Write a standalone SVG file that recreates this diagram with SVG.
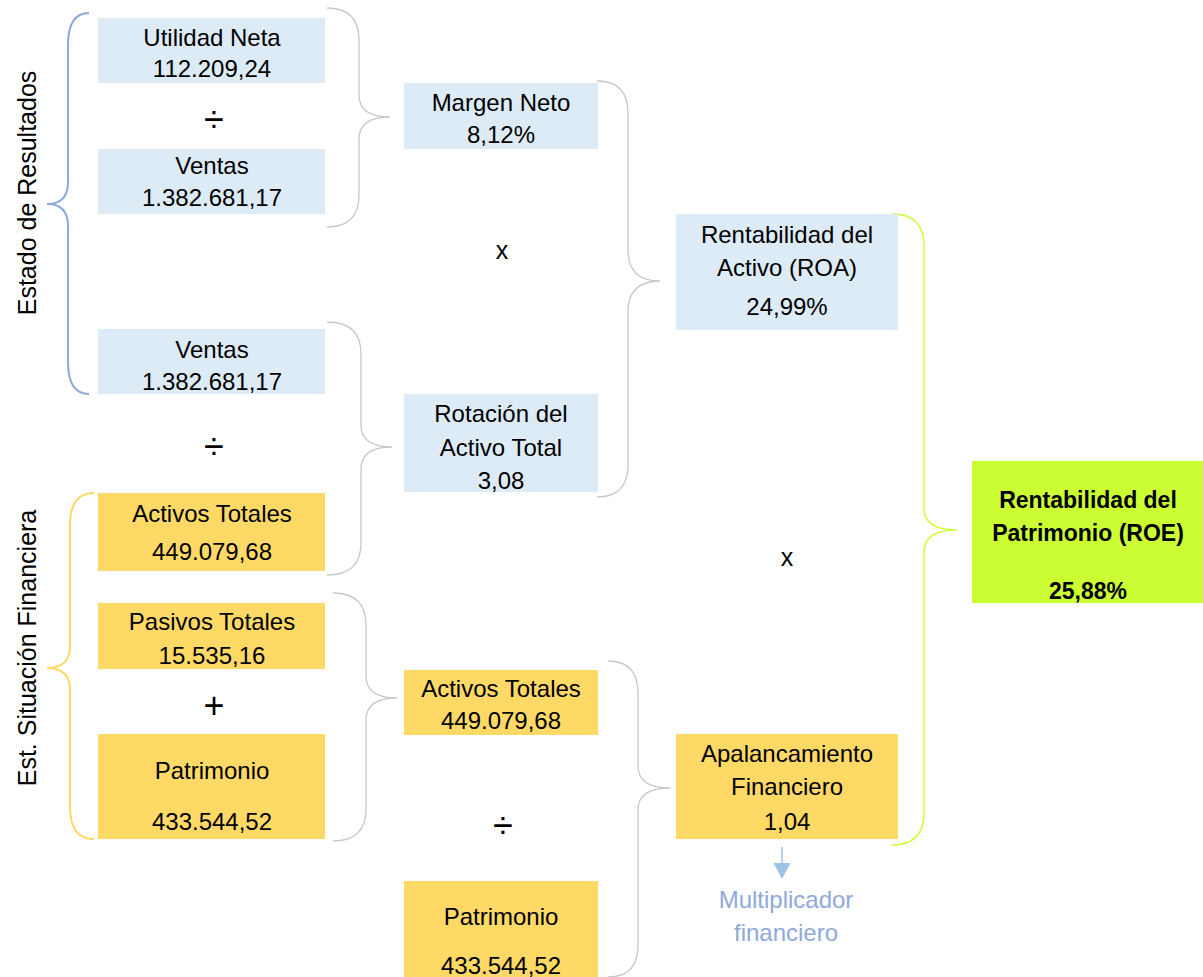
<svg xmlns="http://www.w3.org/2000/svg" width="1203" height="977" viewBox="0 0 1203 977">
<style>
text{font-family:"Liberation Sans",Arial,sans-serif;font-size:24px;fill:#000;text-anchor:middle}
.b{fill:#DDEBF7}
.y{fill:#FFD966}
.g{fill:#CCFF33}
.bold{font-weight:bold;font-size:23px}
.br{fill:none;stroke:#C9C9C9;stroke-width:1.3}
.op{font-size:36px}
.x{font-size:25px}
.side{font-size:25px}
.mult{fill:#8EA9DB}
</style>
<defs>
<marker id="ah" markerWidth="17" markerHeight="17" refX="0" refY="8.5" orient="auto" markerUnits="userSpaceOnUse">
<path d="M0,0 L16,8.5 L0,17 Z" fill="#9DC3E6"/>
</marker>
</defs>
<g id="connectors">
<path class="br" d="M327,8 Q359,8 359,40 L359,95 Q359,117 390,117 Q359,117 359,139 L359,195 Q359,227 327,227"/>
<path class="br" d="M597,81 Q628,81 628,113 L628,250 Q628,281 660,281 Q628,281 628,312 L628,465 Q628,497 597,497"/>
<path class="br" d="M327,322 Q361,322 361,354 L361,425 Q361,447 392,447 Q361,447 361,469 L361,543 Q361,575 327,575"/>
<path class="br" d="M333,593 Q366,593 366,625 L366,676 Q366,698 397,698 Q366,698 366,720 L366,809 Q366,841 333,841"/>
<path class="br" d="M608,661 Q638,661 638,693 L638,766 Q638,788 670,788 Q638,788 638,810 L638,945 Q638,977 608,977"/>
<path fill="none" stroke="#CCFF33" stroke-width="1.5" d="M892,214 Q924,214 924,246 L924,508 Q924,530 957,530 Q924,530 924,552 L924,813 Q924,845 892,845"/>
<path fill="none" stroke="#8EA9DB" stroke-width="2" d="M89,13 Q68,13 68,45 L68,182 Q68,204 47,204 Q68,204 68,226 L68,362 Q68,394 89,394"/>
<path fill="none" stroke="#FFD966" stroke-width="2" d="M94,493 Q70,493 70,525 L70,646 Q70,668 47,668 Q70,668 70,690 L70,807 Q70,839 94,839"/>
<line x1="782" y1="847" x2="782" y2="863" stroke="#9DC3E6" stroke-width="1.5" marker-end="url(#ah)"/>
</g>
<text class="side" transform="translate(36,193) rotate(-90)">Estado de Resultados</text>
<text class="side" transform="translate(36,648) rotate(-90)">Est. Situación Financiera</text>
<g id="utilidad-neta"><rect class="b" x="98" y="18" width="227" height="65"/><text x="212" y="46">Utilidad Neta</text><text x="212" y="77">112.209,24</text></g>
<text class="op" x="214" y="132">÷</text>
<g id="ventas-1"><rect class="b" x="98" y="149" width="227" height="65"/><text x="212" y="174">Ventas</text><text x="212" y="206">1.382.681,17</text></g>
<g id="ventas-2"><rect class="b" x="98" y="329" width="227" height="65"/><text x="212" y="358">Ventas</text><text x="212" y="390">1.382.681,17</text></g>
<text class="op" x="214" y="459">÷</text>
<g id="activos-totales-1"><rect class="y" x="98" y="493" width="227" height="78"/><text x="212" y="522">Activos Totales</text><text x="212" y="560">449.079,68</text></g>
<g id="pasivos-totales"><rect class="y" x="98" y="603" width="227" height="66"/><text x="212" y="630">Pasivos Totales</text><text x="212" y="664">15.535,16</text></g>
<text class="op" x="214" y="718">+</text>
<g id="patrimonio-1"><rect class="y" x="98" y="734" width="227" height="105"/><text x="212" y="779">Patrimonio</text><text x="212" y="830">433.544,52</text></g>
<g id="margen-neto"><rect class="b" x="404" y="83" width="194" height="66"/><text x="501" y="111">Margen Neto</text><text x="501" y="143">8,12%</text></g>
<text class="x" x="502" y="259">x</text>
<g id="rotacion"><rect class="b" x="404" y="394" width="194" height="98"/><text x="501" y="422">Rotación del</text><text x="501" y="456">Activo Total</text><text x="501" y="489">3,08</text></g>
<g id="activos-totales-2"><rect class="y" x="404" y="670" width="194" height="65"/><text x="501" y="697">Activos Totales</text><text x="501" y="729">449.079,68</text></g>
<text class="op" x="503" y="838">÷</text>
<g id="patrimonio-2"><rect class="y" x="404" y="881" width="194" height="96"/><text x="501" y="925">Patrimonio</text><text x="501" y="974">433.544,52</text></g>
<g id="roa"><rect class="b" x="676" y="214" width="222" height="116"/><text x="787" y="243">Rentabilidad del</text><text x="787" y="276">Activo (ROA)</text><text x="787" y="315">24,99%</text></g>
<text class="x" x="787" y="566">x</text>
<g id="apalancamiento"><rect class="y" x="676" y="734" width="222" height="105"/><text x="787" y="762">Apalancamiento</text><text x="787" y="795">Financiero</text><text x="787" y="830">1,04</text></g>
<g id="multiplicador"><text class="mult" x="786" y="908">Multiplicador</text><text class="mult" x="786" y="941">financiero</text></g>
<g id="roe"><rect class="g" x="972" y="461" width="231" height="142"/><text class="bold" x="1088" y="508">Rentabilidad del</text><text class="bold" x="1088" y="541">Patrimonio (ROE)</text><text class="bold" x="1088" y="599">25,88%</text></g>
</svg>
